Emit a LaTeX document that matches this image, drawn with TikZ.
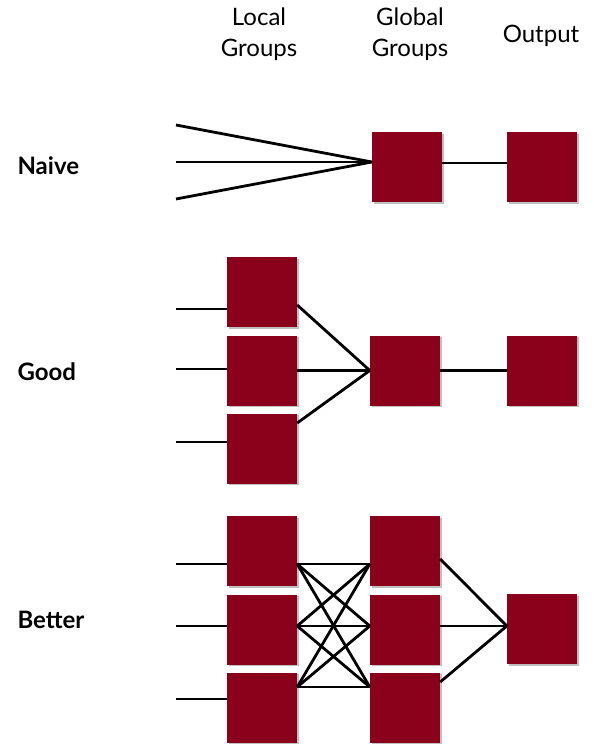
\documentclass[tikz,border=0pt]{standalone}
\usepackage{fontspec}
\setmainfont{Lato}
\usetikzlibrary{shadows}

\definecolor{boxred}{RGB}{139,0,26}

\tikzset{
  group/.style={rectangle, fill=boxred, minimum size=70pt, inner sep=0pt,
    drop shadow={shadow xshift=1.5pt, shadow yshift=-1.5pt, opacity=0.5}},
  wire/.style={line width=2.8pt, black},
  head/.style={align=center, font=\fontsize{24}{31}\selectfont},
  rowname/.style={anchor=west, font=\fontsize{24}{29}\selectfont\bfseries},
}

\begin{document}
\begin{tikzpicture}[x=1pt, y=-1pt]
    \useasboundingbox (0,0) rectangle (594,744);

    % column headings
    \node[head] (hlocal) at (259,34) {Local\\Groups};
    \node[head] (hglobal) at (410,34) {Global\\Groups};
    \node[head] (houtput) at (541,36) {Output};

    % naive
    \node[rowname] (naive) at (14,166) {Naive};
    \node[group] (ng) at (407,167) {};
    \node[group] (no) at (542,167) {};
    \coordinate (nin1) at (176,125);
    \coordinate (nin2) at (176,162);
    \coordinate (nin3) at (176,199);

    \foreach \i in {1,2,3}
        \draw[wire] (nin\i) -- ([yshift=5pt]ng.west);
    \draw[wire] ([yshift=4pt]ng.east) -- ([yshift=4pt]no.west);

    % good
    \node[rowname] (good) at (14,372) {Good};
    \node[group] (gl1) at (262,292) {};
    \node[group] (gl2) at (262,370.5) {};
    \node[group] (gl3) at (262,448.5) {};
    \node[group] (gg) at (405,370.5) {};
    \node[group] (go) at (542,370.5) {};
    \coordinate (gin1) at (176,309);
    \coordinate (gin2) at (176,369);
    \coordinate (gin3) at (176,442);

    \foreach \i in {1,2,3}
        \draw[wire] (gin\i) -- (gin\i -| gl\i.west);
    \draw[wire] ([yshift=-13pt]gl1.east) -- (gg.west);
    \draw[wire] (gl2.east) -- (gg.west);
    \draw[wire] ([yshift=25.5pt]gl3.east) -- (gg.west);
    \draw[wire] (gg.east) -- (go.west);

    % better
    \node[rowname] (better) at (14,620) {Better};
    \foreach \i/\y in {1/551,2/629.5,3/707.5} {
        \node[group] (bl\i) at (262,\y) {};
        \node[group] (bg\i) at (405,\y) {};
    }
    \node[group] (bo) at (542,629) {};
    \coordinate (bin1) at (176,564);
    \coordinate (bin2) at (176,626);
    \coordinate (bin3) at (176,699);

    \foreach \i/\s in {1/-13,2/3.5,3/20.5} {
        \coordinate (blr\i) at ([yshift=\s pt]bl\i.east);
        \coordinate (bgl\i) at ([yshift=\s pt]bg\i.west);
    }

    \foreach \i in {1,2,3}
        \draw[wire] (bin\i) -- (bin\i -| bl\i.west);
    \foreach \i in {1,2,3}
        \foreach \j in {1,2,3}
            \draw[wire] (blr\i) -- (bgl\j);
    \foreach \i/\s in {1/-8,2/3.5,3/25.5}
        \draw[wire] ([yshift=\s pt]bg\i.east) -- ([yshift=3pt]bo.west);
\end{tikzpicture}
\end{document}
